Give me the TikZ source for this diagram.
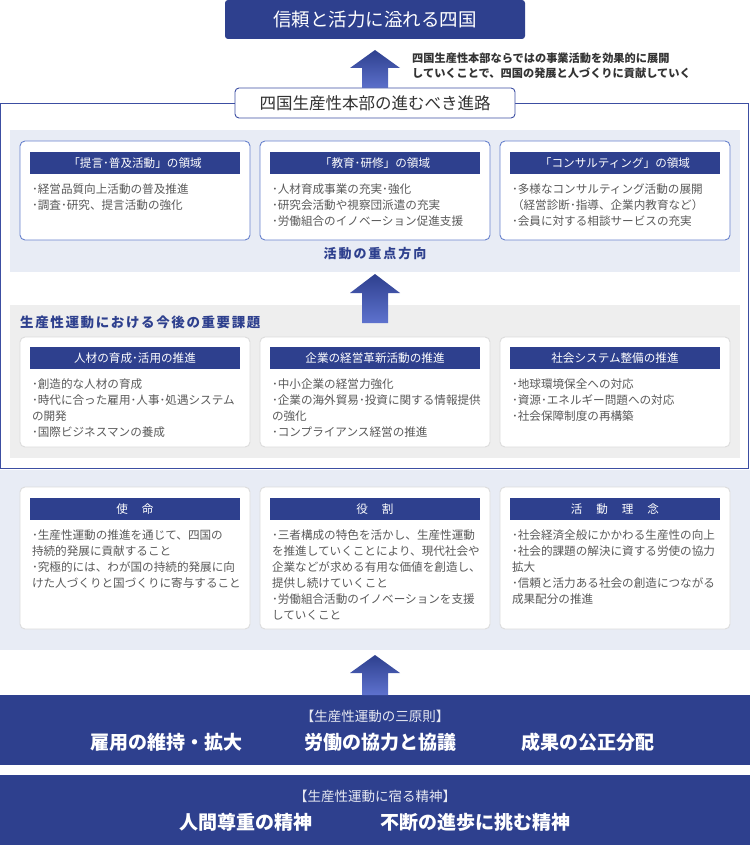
\documentclass[tikz,border=0pt]{standalone}
\usepackage{fontspec}
\setmainfont{Noto Sans CJK JP}
\usetikzlibrary{positioning}
\usepackage{xcolor}
\definecolor{navy}{RGB}{46,64,142}
\definecolor{arrowlight}{RGB}{94,114,206}
\definecolor{framelin}{RGB}{60,78,162}
\definecolor{fieldline}{RGB}{104,130,204}
\definecolor{softline}{RGB}{220,220,220}
\definecolor{bgblue}{RGB}{232,236,245}
\definecolor{bggray}{RGB}{238,238,238}
\definecolor{bodygray}{RGB}{90,90,90}
\definecolor{darktext}{RGB}{51,51,51}

\begin{document}
\begin{tikzpicture}[x=1pt, y=-1pt,
    fieldbox/.style={draw=fieldline, fill=white, rounded corners=5pt,
        line width=0.9pt, minimum width=230pt, inner sep=0pt},
    taskbox/.style={fieldbox, draw=softline},
    headbar/.style={fill=navy, text=white, minimum width=210pt,
        minimum height=22pt, inner sep=0pt,
        font=\fontsize{11.6}{14}\selectfont},
    itemtext/.style={text=bodygray, align=left, inner sep=0pt,
        font=\fontsize{11.6}{16}\selectfont},
    bigword/.style={text=white, inner sep=0pt,
        font=\bfseries\fontsize{19}{21}\selectfont},
    bandnote/.style={text=white!88!navy, inner sep=0pt,
        font=\fontsize{13.5}{15}\selectfont},
    bluetitle/.style={text=navy, inner sep=0pt,
        font=\bfseries\fontsize{13}{15}\selectfont\addfontfeature{LetterSpace=15}},
    bigarrow/.style={top color=navy, bottom color=arrowlight, draw=none}]

    \useasboundingbox (0,0) rectangle (750,845);

    % backgrounds
    \fill[bgblue] (10,130) rectangle (740,272);
    \fill[bggray] (10,305) rectangle (740,458);
    \fill[bgblue] (0,470) rectangle (750,650);
    \fill[navy] (0,695) rectangle (750,765);
    \fill[navy] (0,775) rectangle (750,845);
    \draw[framelin, line width=1pt] (0.5,104) rectangle (748.5,468);

    % goal and route
    \node[fill=navy, rounded corners=3pt, minimum width=300pt, minimum height=39pt,
        text=white, font=\fontsize{18.5}{20}\selectfont] (goal) at (375,19.5)
        {信頼と活力に溢れる四国};
    \path[bigarrow] (375,50) -- (400,68) -- (388,68) -- (388,90)
        -- (362,90) -- (362,68) -- (350,68) -- cycle;
    \node[draw=framelin, fill=white, rounded corners=4pt, line width=0.9pt,
        minimum width=280pt, minimum height=30pt, text=darktext,
        font=\fontsize{16.5}{18}\selectfont] (route) at (375,103)
        {四国生産性本部の進むべき進路};
    \node[text=darktext, align=left, inner sep=0pt, anchor=west,
        font=\bfseries\fontsize{11.2}{15}\selectfont] (aim) at (412,65.5)
        {四国生産性本部ならではの事業活動を効果的に展開\\
         していくことで、四国の発展と人づくりに貢献していく};

    % fields of activity
    \node[fieldbox, minimum height=99pt] (teigen) at (135,190.5) {};
    \node[fieldbox, minimum height=99pt] (kyoiku) at (375,190.5) {};
    \node[fieldbox, minimum height=99pt] (consul) at (615,190.5) {};
    \node[headbar, below=11pt of teigen.north] (teigenh) {「提言･普及活動」の領域};
    \node[headbar, below=11pt of kyoiku.north] (kyoikuh) {「教育･研修」の領域};
    \node[headbar, below=11pt of consul.north] (consulh) {「コンサルティング」の領域};
    \node[itemtext, below right=10pt and 2pt of teigenh.south west]
        {･経営品質向上活動の普及推進\\･調査･研究、提言活動の強化};
    \node[itemtext, below right=10pt and 2pt of kyoikuh.south west]
        {･人材育成事業の充実･強化\\･研究会活動や視察団派遣の充実\\･労働組合のイノベーション促進支援};
    \node[itemtext, below right=10pt and 2pt of consulh.south west]
        {･多様なコンサルティング活動の展開\\（経営診断･指導、企業内教育など）\\･会員に対する相談サービスの充実};
    \node[bluetitle] (focus) at (375,253.5) {活動の重点方向};

    \path[bigarrow] (375,274) -- (400,293) -- (388,293) -- (388,323)
        -- (362,323) -- (362,293) -- (350,293) -- cycle;

    % key issues
    \node[bluetitle, anchor=west,
        font=\bfseries\fontsize{13.5}{16}\selectfont\addfontfeature{LetterSpace=12}]
        (issues) at (20,322) {生産性運動における今後の重要課題};
    \node[taskbox, minimum height=110pt] (jinzai) at (135,392) {};
    \node[taskbox, minimum height=110pt] (kigyo) at (375,392) {};
    \node[taskbox, minimum height=110pt] (shakai) at (615,392) {};
    \node[headbar, below=10pt of jinzai.north] (jinzaih) {人材の育成･活用の推進};
    \node[headbar, below=10pt of kigyo.north] (kigyoh) {企業の経営革新活動の推進};
    \node[headbar, below=10pt of shakai.north] (shakaih) {社会システム整備の推進};
    \node[itemtext, below right=10pt and 2pt of jinzaih.south west]
        {･創造的な人材の育成\\･時代に合った雇用･人事･処遇システム\\の開発\\･国際ビジネスマンの養成};
    \node[itemtext, below right=10pt and 2pt of kigyoh.south west]
        {･中小企業の経営力強化\\･企業の海外貿易･投資に関する情報提供\\の強化\\･コンプライアンス経営の推進};
    \node[itemtext, below right=10pt and 2pt of shakaih.south west]
        {･地球環境保全への対応\\･資源･エネルギー問題への対応\\･社会保障制度の再構築};

    % mission, role, philosophy
    \node[taskbox, minimum height=142pt] (shimei) at (135,558) {};
    \node[taskbox, minimum height=142pt] (yakuwari) at (375,558) {};
    \node[taskbox, minimum height=142pt] (rinen) at (615,558) {};
    \node[headbar, below=11pt of shimei.north] (shimeih) {使\hspace{1.2em}命};
    \node[headbar, below=11pt of yakuwari.north] (yakuwarih) {役\hspace{1.2em}割};
    \node[headbar, below=11pt of rinen.north] (rinenh) {活\hspace{1.2em}動\hspace{1.2em}理\hspace{1.2em}念};
    \node[itemtext, below right=9.5pt and 2pt of shimeih.south west]
        {･生産性運動の推進を通じて、四国の\\持続的発展に貢献すること\\･究極的には、わが国の持続的発展に向\\けた人づくりと国づくりに寄与すること};
    \node[itemtext, below right=9.5pt and 2pt of yakuwarih.south west]
        {･三者構成の特色を活かし、生産性運動\\を推進していくことにより、現代社会や\\企業などが求める有用な価値を創造し、\\提供し続けていくこと\\･労働組合活動のイノベーションを支援\\していくこと};
    \node[itemtext, below right=9.5pt and 2pt of rinenh.south west]
        {･社会経済全般にかかわる生産性の向上\\･社会的課題の解決に資する労使の協力\\拡大\\･信頼と活力ある社会の創造につながる\\成果配分の推進};

    \path[bigarrow] (375,655) -- (400,673) -- (388,673) -- (388,695)
        -- (362,695) -- (362,673) -- (350,673) -- cycle;

    % principles and spirit
    \node[bandnote] (gensoku) at (375,716) {【生産性運動の三原則】};
    \node[bigword] (koyo) at (166,742) {雇用の維持・拡大};
    \node[bigword] (kyogi) at (380,742) {労働の協力と協議};
    \node[bigword] (haibun) at (588,742) {成果の公正分配};
    \node[bandnote] (seishin) at (375,796) {【生産性運動に宿る精神】};
    \node[bigword] (ningen) at (246,822) {人間尊重の精神};
    \node[bigword] (shinpo) at (475,822) {不断の進歩に挑む精神};

\end{tikzpicture}
\end{document}
